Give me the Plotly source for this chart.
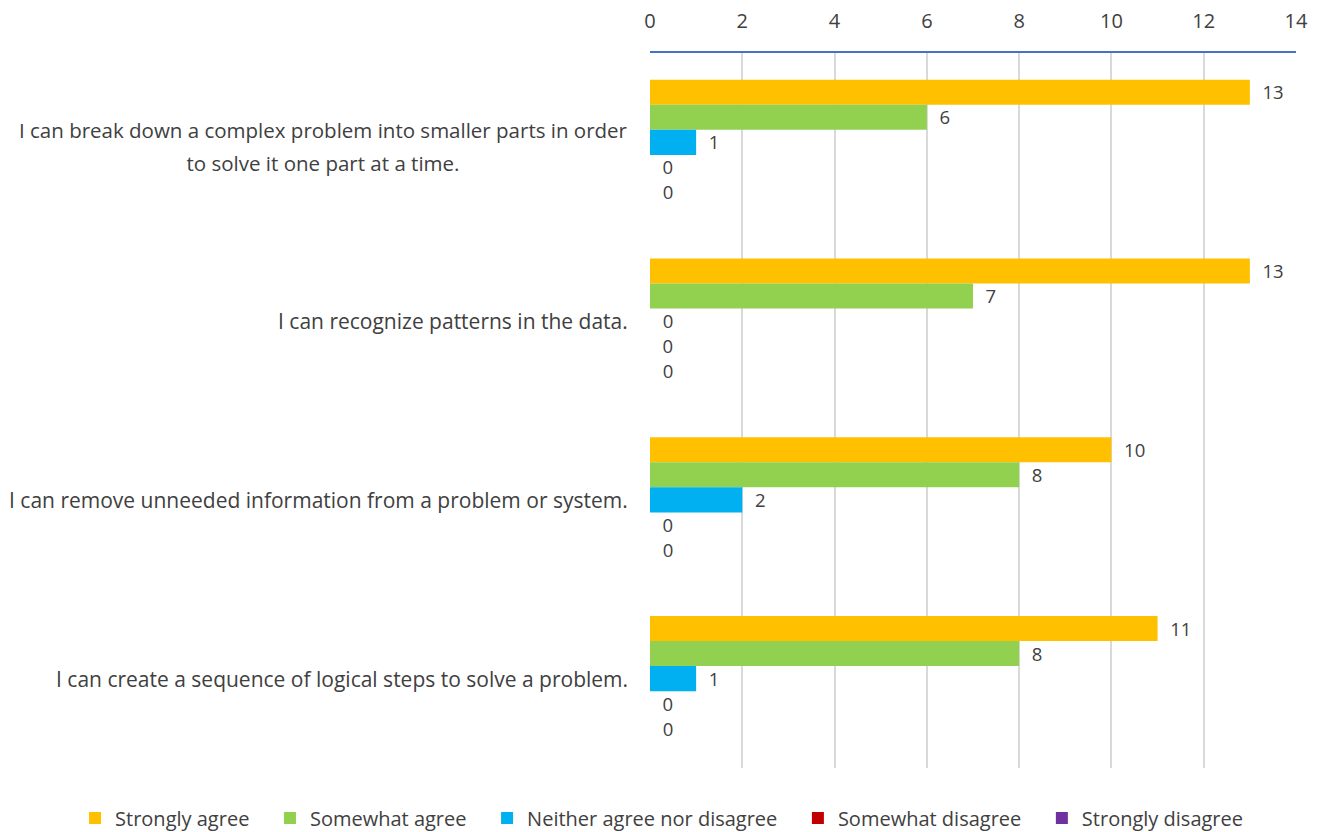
import plotly.graph_objects as go

categories = [
    "I can break down a complex problem into smaller parts in order<br>to solve it one part at a time.",
    "I can recognize patterns in the data.",
    "I can remove unneeded information from a problem or system.",
    "I can create a sequence of logical steps to solve a problem.",
]
series_names = ["Strongly agree", "Somewhat agree", "Neither agree nor disagree",
                "Somewhat disagree", "Strongly disagree"]
strongly_agree = [13, 13, 10, 11]
somewhat_agree = [6, 7, 8, 8]
neither = [1, 0, 2, 1]
somewhat_disagree = [0, 0, 0, 0]
strongly_disagree = [0, 0, 0, 0]
x_ticks = [0, 2, 4, 6, 8, 10, 12, 14]

colors = ["#FFC000", "#92D050", "#00B0F0", "#C00000", "#7030A0"]
series = [strongly_agree, somewhat_agree, neither, somewhat_disagree, strongly_disagree]

FONT = "'Open Sans', sans-serif"
TXT = "#404040"
NB = "\u00a0\u00a0"
LEG_PAD = "\u00a0\u00a0\u00a0"

fig = go.Figure()
for name, vals, c in zip(series_names, series, colors):
    fig.add_trace(go.Bar(
        y=categories, x=vals, name=name + LEG_PAD, orientation="h",
        marker=dict(color=c, line=dict(width=0)),
        texttemplate=NB + "%{x}", textposition="outside",
        textfont=dict(size=20, color=TXT, family=FONT),
        cliponaxis=False,
    ))

# category labels: centered lines with wide (Excel-like) line spacing
for cat in categories:
    lines = cat.split("<br>")
    if len(lines) > 1:
        txt = "<br>".join("<span style='font-size:20.5px'>%s</span>" % ln for ln in lines)
        fsize = 25
        ys = -4
    else:
        txt = cat
        fsize = 21
        ys = 0
    fig.add_annotation(
        x=-0.0314, xref="paper", y=cat, yref="y", text=txt,
        showarrow=False, xanchor="right", align="center", yshift=ys,
        font=dict(size=fsize, color=TXT, family=FONT),
    )

fig.update_layout(
    width=1312, height=824,
    barmode="group", bargap=0.3, bargroupgap=0,
    paper_bgcolor="white", plot_bgcolor="white",
    margin=dict(l=642, r=24, t=45, b=64, autoexpand=False),
    font=dict(family=FONT, color=TXT),
    legend=dict(orientation="h", x=-0.89, xanchor="left",
                y=-0.07, yanchor="middle",
                font=dict(size=20, color=TXT, family=FONT),
                itemwidth=30, traceorder="normal", tracegroupgap=0),
)
fig.update_xaxes(
    side="top", range=[0, 14], tickvals=x_ticks, ticktext=[str(t) for t in x_ticks],
    showgrid=True, gridcolor="#D9D9D9", gridwidth=1.5,
    showline=True, linecolor="#4472C4", linewidth=2,
    ticks="outside", ticklen=15, tickcolor="rgba(0,0,0,0)",
    tickfont=dict(size=20, color=TXT, family=FONT), zeroline=False,
    automargin=False,
)
fig.update_yaxes(
    autorange="reversed", showticklabels=False, showgrid=False, showline=False,
    zeroline=False, automargin=False,
)

fig.write_html("out.html")
